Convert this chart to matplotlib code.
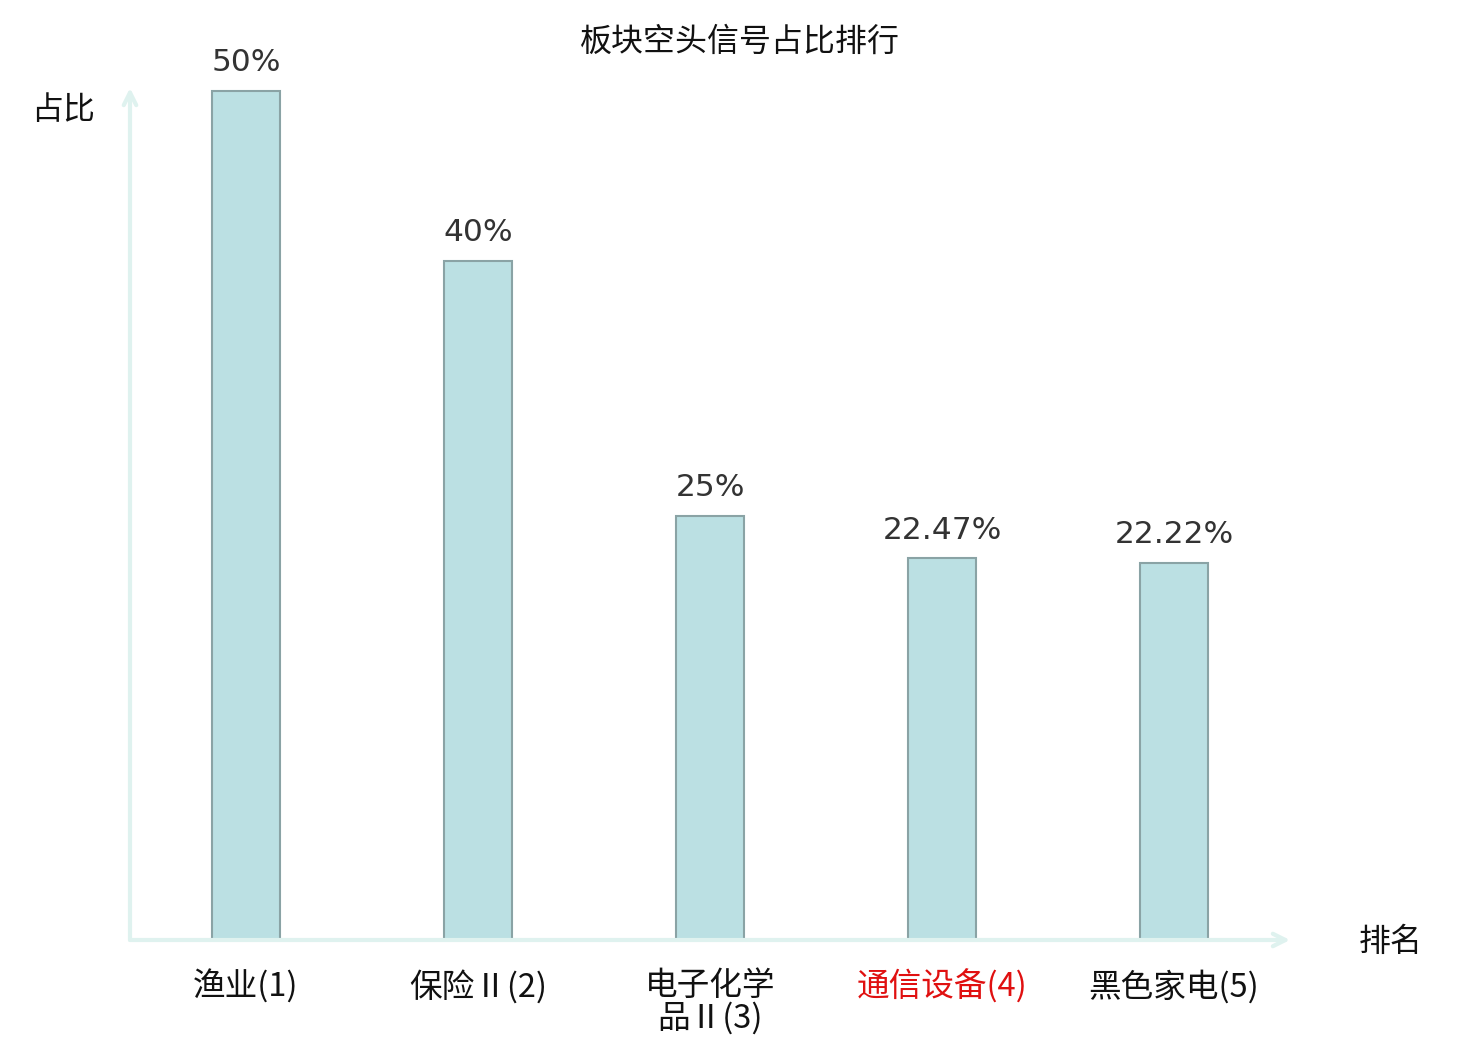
import matplotlib
matplotlib.use('Agg')
import matplotlib.pyplot as plt

plt.rcParams['font.family'] = ['Noto Sans CJK SC', 'DejaVu Sans']

# data
sectors = ['渔业(1)', '保险Ⅱ(2)', '电子化学\n品Ⅱ(3)', '通信设备(4)', '黑色家电(5)']
shares = [50, 40, 25, 22.47, 22.22]
share_labels = ['50%', '40%', '25%', '22.47%', '22.22%']
label_colors = ['#111111', '#111111', '#111111', '#e01010', '#111111']

W, H = 1480, 1040
fig = plt.figure(figsize=(W / 100, H / 100), dpi=100)
ax = fig.add_axes([130 / W, 100 / H, 1160 / W, 852 / H])

x = list(range(len(shares)))
ax.bar(x, shares, width=0.295, color='#bbe0e3', edgecolor='#8aa3a5', linewidth=1.5)

for xi, v, lab in zip(x, shares, share_labels):
    ax.annotate(lab, (xi, v), xytext=(0, 10), textcoords='offset points',
                ha='center', va='bottom', fontsize=22.5, color='#333333',
                family='DejaVu Sans')

for xi, lab, c in zip(x, sectors, label_colors):
    ax.text(xi, -1.75, lab, ha='center', va='top', fontsize=23.5, color=c,
            linespacing=1.0)

ax.set_xlim(-0.5, 4.5)
ax.set_ylim(0, 852 / 16.98)
ax.axis('off')

axis_col = '#dff2ef'
arrow = dict(arrowstyle='->,head_length=0.9,head_width=0.45', color=axis_col, lw=3,
             shrinkA=0, shrinkB=0)
ax.annotate('', xy=(1, 0), xytext=(0, 0), xycoords='axes fraction', arrowprops=arrow)
ax.annotate('', xy=(0, 1), xytext=(0, 0), xycoords='axes fraction', arrowprops=arrow)

fig.text(740 / W, 1 - 42 / H, '板块空头信号占比排行', ha='center', va='center',
         fontsize=23, color='#111111')
fig.text(63 / W, 1 - 110 / H, '占比', ha='center', va='center', fontsize=23, color='#111111')
fig.text(1391 / W, 1 - 942 / H, '排名', ha='center', va='center', fontsize=23, color='#111111')

fig.savefig('out.png', dpi=100)
